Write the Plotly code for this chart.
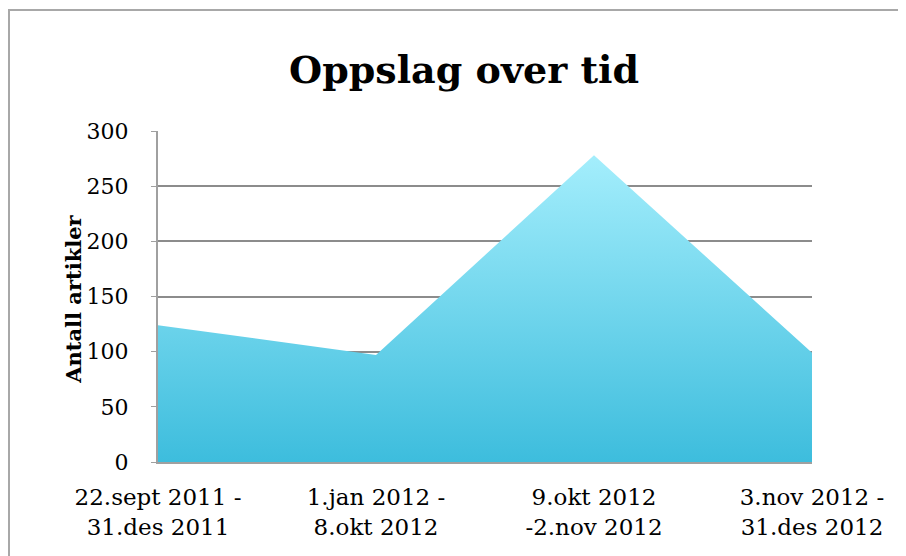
import plotly.graph_objects as go

# Data
periods = ["22.sept 2011 -<br>31.des 2011", "1.jan 2012 -<br>8.okt 2012",
           "9.okt 2012<br>-2.nov 2012", "3.nov 2012 -<br>31.des 2012"]
articles = [124, 97, 278, 99]
y_ticks = [0, 50, 100, 150, 200, 250, 300]

serif = "'DejaVu Serif', serif"

# plot area in figure pixels (page body adds an 8px offset)
W, H = 898, 548
L, R, T, B = 150, 94, 123, 94
pw, ph = W - L - R, H - T - B

trace = go.Scatter(
    x=list(range(len(periods))), y=articles,
    mode="lines", line=dict(width=0, color="#5fcfea"),
    fill="tozeroy",
    fillgradient=dict(type="vertical",
                      colorscale=[[0, "#3dbddd"], [1, "#a4eefc"]]),
    hoverinfo="y", showlegend=False,
)

layout = go.Layout(
    width=W, height=H,
    margin=dict(l=L, r=R, t=T, b=B),
    paper_bgcolor="white", plot_bgcolor="white",
    title=dict(text="<b>Oppslag over tid</b>", x=456 / W, xanchor="center",
               y=1 - 61.7 / H, yanchor="middle",
               font=dict(family=serif, size=38, color="black")),
    font=dict(family=serif, size=22, color="black"),
    xaxis=dict(tickvals=list(range(len(periods))), ticktext=periods,
               range=[0, 3], showgrid=False, zeroline=False,
               showline=True, linecolor="#a0a0a0", linewidth=2,
               ticks="", tickfont=dict(size=23), ticklabelstandoff=13),
    yaxis=dict(tickvals=y_ticks, range=[0, 300],
               showgrid=True, gridcolor="#8c8c8c", gridwidth=1.5,
               zeroline=False, showline=True, linecolor="#a0a0a0",
               linewidth=2, ticks="outside", ticklen=5, tickcolor="#a0a0a0",
               tickfont=dict(size=22), ticklabelstandoff=18),
    annotations=[dict(text="<b>Antall artikler</b>", textangle=-90,
                      xref="paper", yref="paper",
                      x=(66 - L) / pw, y=0.49, xanchor="center",
                      yanchor="middle", showarrow=False,
                      font=dict(family=serif, size=21, color="black"))],
    shapes=[dict(type="rect", xref="paper", yref="paper",
                 x0=(1 - L) / pw, x1=(W + 20 - L) / pw,
                 y0=(H - B - (H + 20)) / ph, y1=(H - B - 2) / ph,
                 line=dict(color="#a8a8a8", width=2), layer="below")],
)

fig = go.Figure(data=[trace], layout=layout)
fig.write_html("out.html")
